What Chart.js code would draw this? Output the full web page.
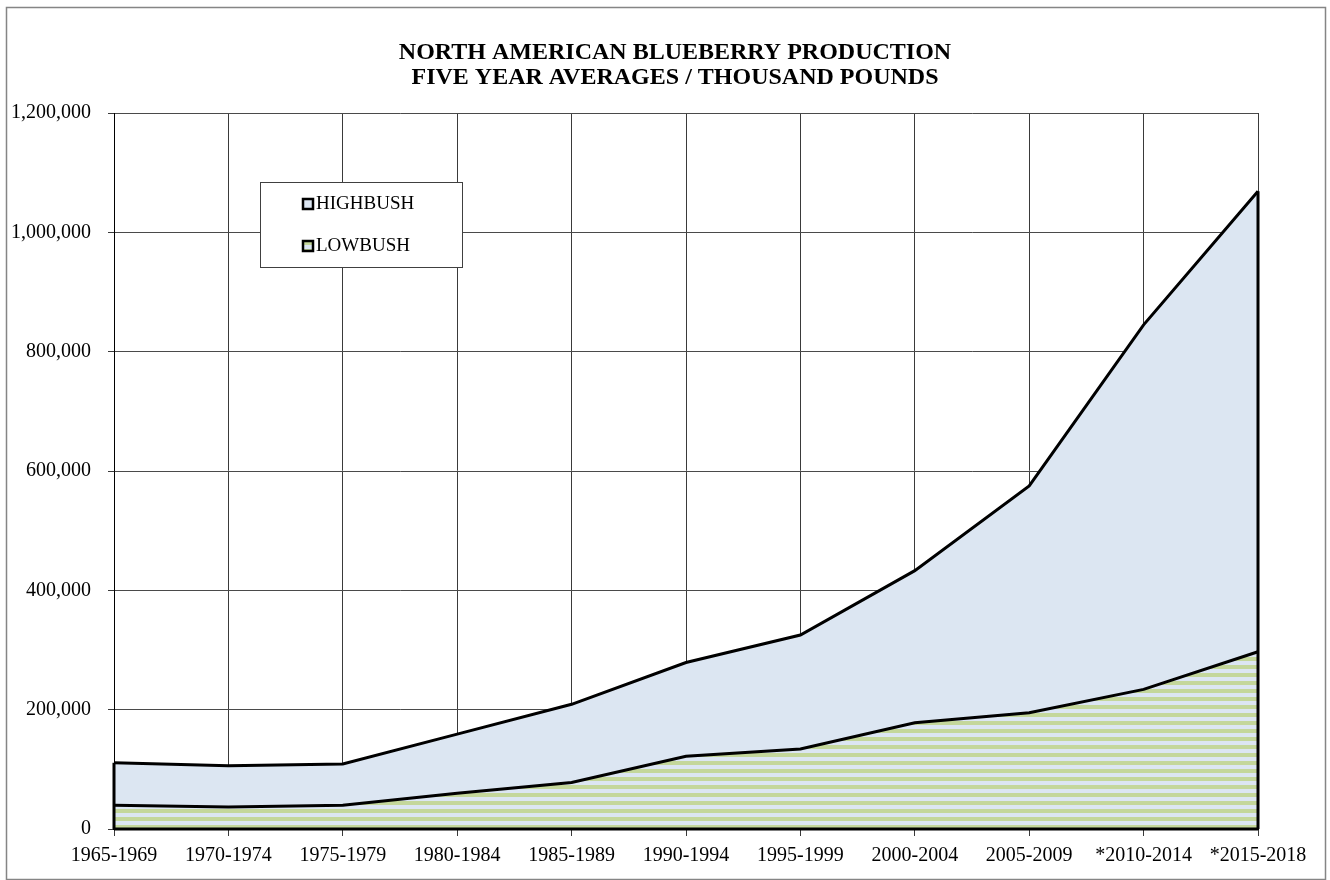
<!DOCTYPE html>
<html>
<head>
<meta charset="utf-8">
<script src="https://cdn.jsdelivr.net/npm/chart.js@4.4.1/dist/chart.umd.min.js"></script>
<style>
  html, body { margin: 0; padding: 0; background: #fff; }
  #wrap { width: 1330px; height: 880px; position: relative; }
</style>
</head>
<body>
<div id="wrap"><canvas id="c" width="1330" height="880"></canvas></div>
<script>
// ---- data ----
const periods = ['1965-1969','1970-1974','1975-1979','1980-1984','1985-1989','1990-1994','1995-1999','2000-2004','2005-2009','*2010-2014','*2015-2018'];
const lowbush = [40000, 37000, 40000, 60000, 78000, 122000, 134000, 178000, 195000, 234000, 297000];
const highbush = [71000, 69000, 69000, 99000, 131000, 157000, 191000, 255000, 380000, 611000, 772000];
const titleLines = ['NORTH AMERICAN BLUEBERRY PRODUCTION', 'FIVE YEAR AVERAGES / THOUSAND POUNDS'];
const seriesNames = ['LOWBUSH', 'HIGHBUSH'];
const yMin = 0, yMax = 1200000, yStep = 200000;

const SERIF = '"Liberation Serif", "Times New Roman", Times, serif';
const BLUE = '#dce6f2';
const GREEN = '#c4d79b';

function stripePattern() {
  const p = document.createElement('canvas');
  p.width = 8; p.height = 8;
  const g = p.getContext('2d');
  g.fillStyle = BLUE; g.fillRect(0, 0, 8, 8);
  g.fillStyle = GREEN; g.fillRect(0, 1, 8, 4);
  return document.getElementById('c').getContext('2d').createPattern(p, 'repeat');
}
const lowPattern = stripePattern();

const frame = {
  id: 'frame',
  beforeDraw(chart) {
    const ctx = chart.ctx;
    ctx.save();
    ctx.fillStyle = '#fff';
    ctx.fillRect(0, 0, chart.width, chart.height);
    ctx.restore();
  },
  afterDraw(chart) {
    const ctx = chart.ctx;
    ctx.save();
    ctx.strokeStyle = '#858585';
    ctx.lineWidth = 1.5;
    ctx.strokeRect(6.5, 7.5, 1319, 872);
    // title
    ctx.fillStyle = '#000';
    ctx.font = 'bold 24px ' + SERIF;
    ctx.textAlign = 'center';
    ctx.textBaseline = 'middle';
    titleLines.forEach((t, i) => ctx.fillText(t, 675, 53 + i * 25));
    ctx.restore();
  }
};

const edges = {
  id: 'edges',
  afterDatasetsDraw(chart) {
    const ctx = chart.ctx;
    const meta = chart.getDatasetMeta(chart.data.datasets.length - 1);
    const pts = meta.data;
    const bottom = chart.chartArea.bottom;
    ctx.save();
    ctx.strokeStyle = '#000';
    ctx.lineWidth = 3;
    [pts[0], pts[pts.length - 1]].forEach(p => {
      ctx.beginPath();
      ctx.moveTo(p.x, p.y);
      ctx.lineTo(p.x, bottom);
      ctx.stroke();
    });
    ctx.beginPath();
    ctx.moveTo(pts[0].x, bottom);
    ctx.lineTo(pts[pts.length - 1].x, bottom);
    ctx.stroke();
    ctx.restore();
  }
};

const legendBox = {
  id: 'legendBox',
  afterDraw(chart) {
    const ctx = chart.ctx;
    const ds = chart.data.datasets;
    const order = [1, 0];
    ctx.save();
    ctx.fillStyle = '#fff';
    ctx.fillRect(260, 182, 202, 85);
    ctx.strokeStyle = '#404040';
    ctx.lineWidth = 1;
    ctx.strokeRect(260.5, 182.5, 202, 85);
    ctx.font = '19px ' + SERIF;
    ctx.textBaseline = 'middle';
    order.forEach((i, k) => {
      const cy = 204 + k * 42;
      ctx.fillStyle = i === 0 ? lowPattern : BLUE;
      ctx.fillRect(303, cy - 5, 10, 10);
      ctx.strokeStyle = '#000';
      ctx.lineWidth = 2.5;
      ctx.strokeRect(303, cy - 5, 10, 10);
      ctx.fillStyle = '#000';
      ctx.fillText(ds[i].label, 316, cy);
    });
    ctx.restore();
  }
};

new Chart(document.getElementById('c'), {
  type: 'line',
  data: {
    labels: periods,
    datasets: [
      {
        label: seriesNames[0],
        data: lowbush,
        fill: 'origin',
        backgroundColor: lowPattern,
        borderColor: '#000',
        borderWidth: 3,
        pointRadius: 0,
        tension: 0
      },
      {
        label: seriesNames[1],
        data: highbush,
        fill: '-1',
        backgroundColor: BLUE,
        borderColor: '#000',
        borderWidth: 3,
        pointRadius: 0,
        tension: 0
      }
    ]
  },
  options: {
    responsive: false,
    animation: false,
    layout: { padding: { left: 0, right: 72, top: 113, bottom: 0 } },
    plugins: {
      legend: { display: false },
      tooltip: { enabled: false },
      title: { display: false }
    },
    scales: {
      x: {
        offset: false,
        grid: { offset: false, color: '#3a3a3a', lineWidth: 1, tickLength: 7, tickColor: '#3a3a3a' },
        border: { color: '#000', width: 2 },
        ticks: { color: '#000', font: { family: SERIF, size: 20 }, padding: 8, maxRotation: 0, autoSkip: false },
        afterFit(scale) { scale.height = 51; }
      },
      y: {
        stacked: true,
        min: yMin, max: yMax,
        grid: { color: '#4a4a4a', lineWidth: 1, tickLength: 6, tickColor: '#3a3a3a' },
        border: { color: '#000', width: 1 },
        ticks: {
          stepSize: yStep,
          color: '#000',
          font: { family: SERIF, size: 20 },
          padding: 17,
          callback: v => v.toLocaleString('en-US')
        },
        afterFit(scale) { scale.width = 114; }
      }
    }
  },
  plugins: [frame, edges, legendBox]
});
</script>
</body>
</html>
